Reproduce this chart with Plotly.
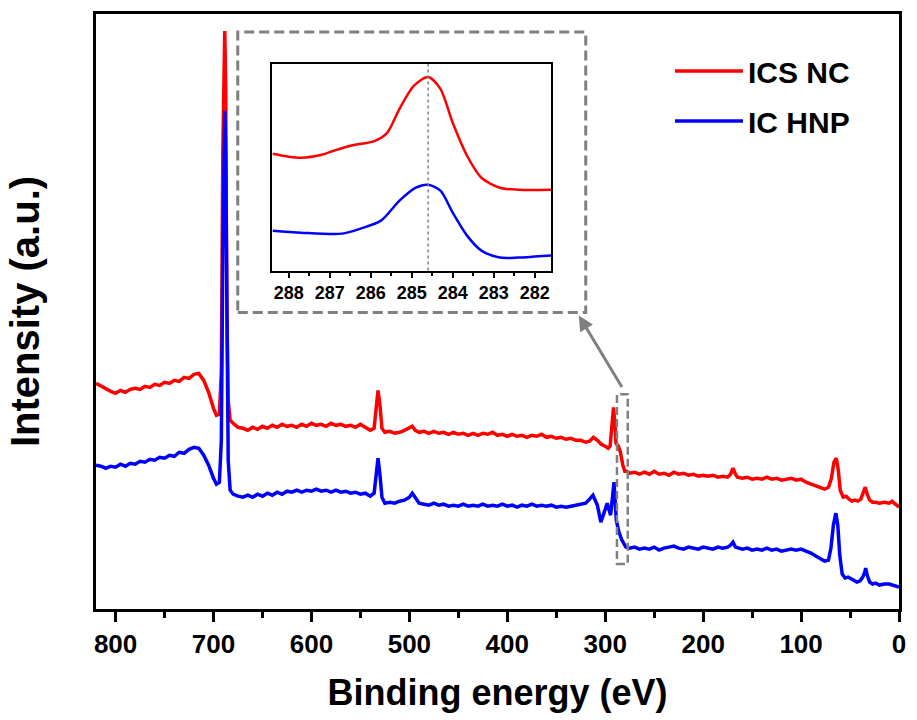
import plotly.graph_objects as go

# ---------------- main survey spectrum (binding energy in eV, intensity in a.u.) -------------
ics_nc_be = [820, 815, 810, 805, 800, 795, 790, 785, 780, 775, 770, 765, 760, 755, 750, 745, 740,
             735, 730, 725, 720, 715, 710, 705, 700, 697, 694, 692, 690.5, 689, 688.5, 687.5, 686.5,
             685, 683, 680, 675, 670, 665, 660, 655, 650, 645, 640, 635, 630, 625, 620, 615, 610,
             605, 600, 595, 590, 585, 580, 575, 570, 565, 560, 555, 550, 545, 540, 536, 534, 532,
             530, 528, 525, 520, 515, 510, 505, 500, 497, 494, 490, 485, 480, 475, 470, 465, 460,
             455, 450, 445, 440, 435, 430, 425, 420, 415, 410, 405, 400, 395, 390, 385, 380, 375,
             370, 365, 360, 355, 350, 345, 340, 335, 330, 325, 320, 316, 312, 308, 304, 300, 297,
             295, 293, 291.5, 290, 289, 286.5, 284.5, 282, 280, 278, 275, 270, 265, 260, 255, 250,
             245, 240, 235, 230, 225, 220, 215, 210, 205, 200, 195, 190, 185, 180, 175, 172, 169.5,
             167, 165, 160, 155, 150, 145, 140, 135, 130, 125, 120, 115, 110, 105, 100, 95, 90, 85,
             80, 76, 72, 69, 66.5, 64, 62, 60, 57, 54, 51, 48, 45, 42, 39, 36.5, 34.5, 32.5, 30,
             27, 24, 20, 15, 10, 7, 4, 2, 0]
ics_nc_int = [226, 223, 220, 218, 216, 219, 217, 220, 221, 220, 223, 222, 225, 224, 227, 226, 229,
              228, 232, 231, 235, 236, 229, 217, 201, 194, 195, 239, 459, 569, 579, 519, 309,
              209, 189, 186, 182, 181, 179, 182, 180, 183, 181, 184, 182, 185, 183, 184, 182, 185,
              183, 186, 184, 185, 183, 186, 184, 185, 183, 184, 182, 185, 182, 179, 181, 199, 219,
              204, 181, 177, 178, 176, 177, 179, 181, 183, 179, 177, 178, 176, 178, 176, 177, 175,
              177, 175, 176, 174, 176, 174, 176, 175, 177, 174, 175, 173, 175, 173, 174, 172, 174,
              173, 175, 172, 173, 171, 172, 170, 171, 169, 169, 167, 168, 172, 169, 165, 163, 161,
              163, 184, 202, 184, 166, 163, 157, 144, 138, 138, 136, 137, 135, 137, 135, 138,
              135, 136, 134, 137, 135, 136, 134, 135, 133, 134, 133, 134, 132, 133, 132, 135, 141,
              135, 132, 131, 132, 130, 131, 130, 132, 130, 131, 129, 130, 131, 129, 130, 127, 125, 123,
              121, 120, 122, 131, 147, 151, 139, 119, 112, 113, 110, 108, 109, 108, 110, 117, 122, 115, 109,
              107, 107, 106, 107, 106, 108, 105, 104, 102]

ic_hnp_be = [820, 815, 810, 805, 800, 795, 790, 785, 780, 775, 770, 765, 760, 755, 750, 745, 740,
             735, 730, 725, 720, 715, 710, 705, 700, 697, 694, 692, 690.5, 689, 688.5, 687.5, 686.5,
             685, 683, 680, 675, 670, 665, 660, 655, 650, 645, 640, 635, 630, 625, 620, 615, 610,
             605, 600, 595, 590, 585, 580, 575, 570, 565, 560, 555, 550, 545, 540, 536, 534, 532,
             530, 528, 525, 520, 515, 510, 505, 500, 497, 494, 490, 485, 480, 475, 470, 465, 460,
             455, 450, 445, 440, 435, 430, 425, 420, 415, 410, 405, 400, 395, 390, 385, 380, 375,
             370, 365, 360, 355, 350, 345, 340, 335, 330, 325, 320, 316, 312.5, 308, 304.5, 301,
             298, 294.5, 291, 288.7, 286, 283, 279, 275, 270, 265, 260, 255, 250, 245, 240, 235,
             230, 225, 220, 215, 210, 205, 200, 195, 190, 185, 180, 175, 172, 169.5, 167, 160, 155,
             150, 145, 140, 135, 130, 125, 120, 115, 110, 105, 100, 95, 90, 85, 80, 76, 72, 69.5,
             67, 64.5, 62.5, 60.5, 58, 55, 52, 49, 46, 43, 40, 37, 35, 34, 32.5, 30, 27, 24, 20,
             15, 10, 7, 4, 1, 0]
ic_hnp_int = [144, 143, 141, 143, 142, 145, 143, 146, 145, 148, 147, 150, 149, 152, 151, 154, 153,
              157, 156, 160, 162, 161, 154, 144, 131, 125, 127, 169, 359, 489, 499, 449, 289,
              149, 119, 115, 113, 112, 114, 112, 115, 113, 116, 114, 117, 115, 118, 117, 119, 117,
              119, 118, 120, 118, 119, 117, 119, 117, 118, 116, 117, 115, 116, 113, 116, 134, 151,
              134, 112, 106, 107, 106, 108, 109, 112, 116, 111, 106, 105, 104, 106, 104, 105, 103,
              104, 103, 105, 103, 104, 103, 105, 103, 104, 103, 105, 103, 104, 102, 104, 103, 105,
              103, 104, 103, 104, 102, 103, 102, 103, 104, 105, 106, 110, 114, 104, 87, 97,
              106, 94, 127, 89, 77, 69, 62, 61, 62, 60, 61, 60, 62, 59, 61, 62,
              63, 61, 60, 62, 61, 60, 62, 61, 60, 62, 61, 62, 64, 67, 62, 60, 61,
              59, 60, 59, 61, 59, 60, 58, 59, 60, 59, 60, 58, 56, 53, 50, 48, 49, 61,
              84, 96, 84, 54, 35, 31, 32, 30, 28, 27, 28, 32, 37, 41, 34, 27, 25, 26, 24,
              25, 25, 24, 23, 22, 22]

# ---------------- C 1s inset (binding energy in eV, intensity in a.u.) ----------------
inset_red_be = [288.4, 288.0, 287.7, 287.2, 286.9, 286.5, 285.9, 285.6, 285.3, 284.95, 284.6,
                284.3, 284.0, 283.65, 283.3, 282.85, 282.4, 281.6]
inset_red_int = [117, 114, 113, 116, 120, 125, 130, 138, 162, 185, 194, 182, 148, 115, 93, 83, 81, 81]
inset_blue_be = [288.4, 287.7, 286.7, 286.25, 285.75, 285.3, 284.9, 284.6, 284.3, 284.0, 283.65,
                 283.3, 282.85, 282.4, 282.0, 281.6]
inset_blue_int = [40, 38, 37, 42, 50, 70, 83, 86, 80, 58, 35, 20, 13, 13, 14, 15]
c1s_peak = 284.6

names = ["ICS NC", "IC HNP"]
colors = ["#ff0000", "#0000ff"]
main_ticks = [800, 700, 600, 500, 400, 300, 200, 100, 0]
inset_ticks = [288, 287, 286, 285, 284, 283, 282]

FONT = "Liberation Sans, Arial, sans-serif"
GREY = "#808080"

fig = go.Figure()
fig.add_trace(go.Scatter(x=ics_nc_be, y=ics_nc_int, mode="lines", name=names[0],
                         line=dict(color=colors[0], width=3.5), legendgroup="a"))
fig.add_trace(go.Scatter(x=ic_hnp_be, y=ic_hnp_int, mode="lines", name=names[1],
                         line=dict(color=colors[1], width=3.5), legendgroup="b"))
fig.add_trace(go.Scatter(x=inset_red_be, y=inset_red_int, mode="lines", showlegend=False,
                         line=dict(color=colors[0], width=2.5, shape="spline", smoothing=0.8),
                         xaxis="x2", yaxis="y2"))
fig.add_trace(go.Scatter(x=inset_blue_be, y=inset_blue_int, mode="lines", showlegend=False,
                         line=dict(color=colors[1], width=2.5, shape="spline", smoothing=0.8),
                         xaxis="x2", yaxis="y2"))

# plot area in pixels: left 96, right 906, top 13, bottom 609
L, R, T, B = 96, 906, 13, 609
W, H = R - L, B - T


def px(xp):
    return (xp - L) / W


def py(yp):
    return (B - yp) / H


fig.update_layout(
    width=917, height=720,
    margin=dict(l=L, r=917 - R, t=T, b=720 - B),
    paper_bgcolor="white", plot_bgcolor="white",
    font=dict(family=FONT, color="black"),
    showlegend=True,
    legend=dict(x=px(675), y=py(44), xanchor="left", yanchor="top",
                bgcolor="rgba(0,0,0,0)", font=dict(size=30, weight="bold", family=FONT),
                tracegroupgap=8, itemwidth=68),
    xaxis=dict(range=[820, 0], tickvals=main_ticks, ticks="outside", ticklen=10, tickwidth=2.5,
               tickcolor="black", showline=True, linewidth=3, linecolor="black", mirror=True,
               showgrid=False, zeroline=False,
               minor=dict(dtick=50, tick0=0, ticks="outside", ticklen=6, tickwidth=2.5, tickcolor="black"),
               tickfont=dict(size=26, weight="bold", family=FONT),
               title=dict(text="Binding energy (eV)", font=dict(size=36, weight="bold", family=FONT),
                          standoff=22)),
    yaxis=dict(range=[0, 596], showticklabels=False, ticks="", showline=True, linewidth=3,
               linecolor="black", mirror=True, showgrid=False, zeroline=False,
               title=dict(text="Intensity (a.u.)", font=dict(size=40, weight="bold", family=FONT),
                          standoff=42)),
    xaxis2=dict(domain=[px(274), px(555)], anchor="y2", range=[288.4, 281.6], tickvals=inset_ticks,
                ticks="outside", ticklen=5, tickwidth=1.5, tickcolor="black", showline=True,
                linewidth=2, linecolor="black", mirror=True, showgrid=False, zeroline=False,
                minor=dict(dtick=0.5, tick0=0, ticks="outside", ticklen=3, tickwidth=1.5, tickcolor="black"),
                tickfont=dict(size=18, weight="bold", family=FONT)),
    yaxis2=dict(domain=[py(270), py(63)], anchor="x2", range=[0, 207], showticklabels=False,
                ticks="", showline=True, linewidth=2, linecolor="black", mirror=True,
                showgrid=False, zeroline=False),
)

# inset frame (dashed grey box), the zoomed region marker and the arrow linking them
fig.add_shape(type="rect", xref="paper", yref="paper", x0=px(239), x1=px(590), y0=py(312), y1=py(31),
              line=dict(color=GREY, width=3, dash="10px,5px"), fillcolor="rgba(0,0,0,0)", layer="above")
fig.add_shape(type="rect", xref="x", yref="y", x0=288, x1=277, y0=45, y1=215,
              line=dict(color=GREY, width=2.5, dash="8px,4px"), fillcolor="rgba(0,0,0,0)", layer="above")
fig.add_shape(type="line", xref="x2", yref="y2 domain", x0=c1s_peak, x1=c1s_peak, y0=0, y1=1,
              line=dict(color=GREY, width=1.5, dash="3px,3px"))
fig.add_annotation(xref="paper", yref="paper", x=px(583), y=py(315), ax=44, ay=73, axref="pixel",
                   ayref="pixel", text="", showarrow=True, arrowhead=2, arrowsize=1, arrowwidth=3,
                   arrowcolor=GREY)

fig.write_html("out.html")
